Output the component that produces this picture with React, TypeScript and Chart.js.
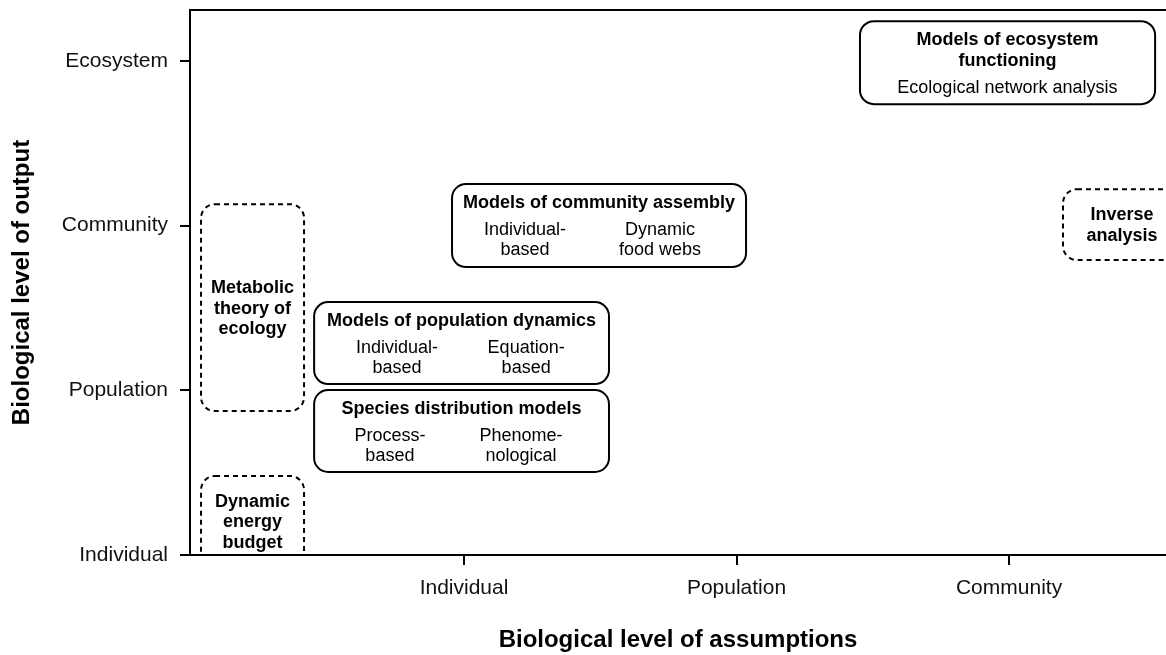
import React, { useEffect, useRef } from 'react';
import { Chart, registerables } from 'chart.js';

Chart.register(...registerables);

// Axis categories
const xLevels = ['Individual', 'Population', 'Community']; // at x = 1, 2, 3
const yLevels = ['Individual', 'Population', 'Community', 'Ecosystem']; // at y = 0..3
const xTickValues = [1, 2, 3];
const yTickValues = [0, 1, 2, 3];

// Boxes (data units)
const boxTitles = [
  ['Models of ecosystem', 'functioning'],
  ['Models of community assembly'],
  ['Inverse', 'analysis'],
  ['Metabolic', 'theory of', 'ecology'],
  ['Models of population dynamics'],
  ['Species distribution models'],
  ['Dynamic', 'energy', 'budget'],
];
const boxSubLabels: string[][][] = [
  [['Ecological network analysis']],
  [['Individual-', 'based'], ['Dynamic', 'food webs']],
  [],
  [],
  [['Individual-', 'based'], ['Equation-', 'based']],
  [['Process-', 'based'], ['Phenome-', 'nological']],
  [],
];
const boxSubX: number[][] = [[2.994], [1.224, 1.719], [], [], [0.754, 1.228], [0.728, 1.209], []];
const boxXStart = [2.453, 0.956, 3.198, 0.035, 0.45, 0.45, 0.035];
const boxXEnd = [3.536, 2.035, 3.631, 0.413, 1.532, 1.532, 0.413];
const boxYTop = [3.242, 2.253, 2.222, 2.131, 1.536, 1.002, 0.48];
const boxYBottom = [2.738, 1.749, 1.791, 0.874, 1.038, 0.504, -0.07];
const boxDashed = [false, false, true, true, false, false, true];

const FONT = '"Liberation Sans", Arial, sans-serif';

const noPad = (s: any) => {
  s.paddingTop = 0;
  s.paddingBottom = 0;
  s.paddingLeft = 0;
  s.paddingRight = 0;
};

const boxPlugin = {
  id: 'boxes',
  afterDraw(chart: any) {
    const { ctx, chartArea, scales } = chart;
    const xs = scales.x;
    const ys = scales.y;
    ctx.save();
    // top frame line
    ctx.strokeStyle = '#000';
    ctx.lineWidth = 2;
    ctx.beginPath();
    ctx.moveTo(chartArea.left - 1, chartArea.top);
    ctx.lineTo(chartArea.right + 2, chartArea.top);
    ctx.stroke();

    ctx.beginPath();
    ctx.rect(chartArea.left, chartArea.top, chartArea.right - chartArea.left + 20, chartArea.bottom - chartArea.top);
    ctx.clip();

    for (let i = 0; i < boxTitles.length; i++) {
      const x0 = xs.getPixelForValue(boxXStart[i]);
      const x1 = xs.getPixelForValue(boxXEnd[i]);
      const y0 = ys.getPixelForValue(boxYTop[i]);
      const y1 = ys.getPixelForValue(boxYBottom[i]);
      ctx.setLineDash(boxDashed[i] ? [5, 4] : []);
      ctx.lineWidth = 2;
      ctx.strokeStyle = '#000';
      ctx.beginPath();
      ctx.roundRect(x0, y0, x1 - x0, y1 - y0, 14);
      ctx.stroke();
      ctx.setLineDash([]);

      ctx.fillStyle = '#000';
      ctx.textAlign = 'center';
      ctx.textBaseline = 'middle';
      const cx = (x0 + x1) / 2;
      const titles = boxTitles[i];
      if (boxDashed[i]) {
        const lh = 20.5;
        const cy = (y0 + y1) / 2 + 1;
        const start = cy - ((titles.length - 1) * lh) / 2;
        ctx.font = `bold 18px ${FONT}`;
        titles.forEach((t, k) => ctx.fillText(t, cx, start + k * lh));
      } else {
        const lh = 21;
        ctx.font = `bold 18px ${FONT}`;
        let y = y0 + 19;
        titles.forEach((t, k) => ctx.fillText(t, cx, y + k * lh));
        const lastTitle = y + (titles.length - 1) * lh;
        ctx.font = `18px ${FONT}`;
        const subs = boxSubLabels[i];
        subs.forEach((col, c) => {
          const px = xs.getPixelForValue(boxSubX[i][c]);
          col.forEach((t, k) => ctx.fillText(t, px, lastTitle + 27 + k * 20));
        });
      }
    }
    ctx.restore();
  },
};

export default function App() {
  const ref = useRef<HTMLCanvasElement>(null);
  useEffect(() => {
    const chart = new Chart(ref.current!, {
      type: 'scatter',
      data: { datasets: [] },
      options: {
        animation: false,
        responsive: false,
        layout: { padding: { top: 10, right: 0, left: 0, bottom: 0 } },
        plugins: { legend: { display: false }, tooltip: { enabled: false } },
        scales: {
          x: {
            type: 'linear',
            min: -0.0055,
            max: 3.576,
            afterBuildTicks: (s: any) => {
              s.ticks = xTickValues.map((v) => ({ value: v }));
            },
            afterFit: (s: any) => {
              s.height = 100;
              noPad(s);
            },
            ticks: {
              callback: (v: any) => xLevels[Number(v) - 1] ?? '',
              color: '#111',
              font: { family: FONT, size: 21 },
              padding: 11,
              maxRotation: 0,
              autoSkip: false,
            },
            grid: { drawOnChartArea: false, color: '#000', lineWidth: 2, tickLength: 10 },
            border: { display: true, color: '#000', width: 2 },
            title: {
              display: true,
              text: 'Biological level of assumptions',
              color: '#000',
              font: { family: FONT, size: 24, weight: 'bold' },
              padding: { top: 4.5, bottom: 0 },
            },
          },
          y: {
            type: 'linear',
            min: 0,
            max: 3.31,
            afterBuildTicks: (s: any) => {
              s.ticks = yTickValues.map((v) => ({ value: v }));
            },
            afterFit: (s: any) => {
              s.width = 190;
              noPad(s);
            },
            ticks: {
              callback: (v: any) => yLevels[Number(v)] ?? '',
              color: '#111',
              font: { family: FONT, size: 21 },
              padding: 12,
              autoSkip: false,
            },
            grid: { drawOnChartArea: false, color: '#000', lineWidth: 2, tickLength: 10 },
            border: { display: true, color: '#000', width: 2 },
            title: {
              display: true,
              text: 'Biological level of output',
              color: '#000',
              font: { family: FONT, size: 24, weight: 'bold' },
              padding: { top: 7.6, bottom: 0 },
            },
          },
        },
      },
      plugins: [boxPlugin],
    } as any);
    return () => chart.destroy();
  }, []);
  return (
    <div style={{ position: 'fixed', left: 0, top: 0, width: 1166, height: 655, background: '#fff' }}>
      <canvas ref={ref} width={1166} height={655} />
    </div>
  );
}
